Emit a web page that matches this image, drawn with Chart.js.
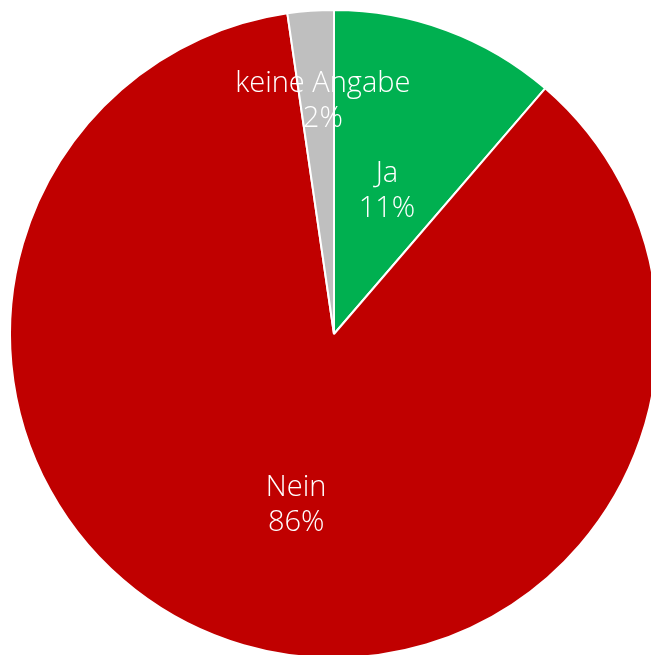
<!DOCTYPE html>
<html>
<head>
<meta charset="utf-8">
<script src="https://cdn.jsdelivr.net/npm/chart.js@4/dist/chart.umd.min.js"></script>
<style>
  html, body { margin: 0; padding: 0; background: #fff; overflow: hidden; }
  #wrap { position: absolute; left: 0; top: 0; width: 668px; height: 668px; }
</style>
</head>
<body>
<div id="wrap"><canvas id="pie"></canvas></div>
<script>
// Werte
var categories = ["Ja", "Nein", "keine Angabe"];
var values = [11.3, 86.4, 2.3];
var percentLabels = ["11%", "86%", "2%"];
var sliceColors = ["#00b050", "#c00000", "#bfbfbf"];

// Beschriftung in den Segmenten (wie bei Excel)
var sliceLabels = {
    id: "sliceLabels",
    afterDatasetsDraw: function (chart, args, opts) {
        var ctx = chart.ctx;
        var meta = chart.getDatasetMeta(0);
        ctx.save();
        ctx.fillStyle = "#ffffff";
        ctx.font = opts.font;
        ctx.textAlign = "center";
        ctx.textBaseline = "middle";
        meta.data.forEach(function (arc, i) {
            var p = arc.getProps(["x", "y", "startAngle", "endAngle", "outerRadius"], true);
            var place = opts.place[i];
            var mid = (p.startAngle + p.endAngle) / 2 + place.a * Math.PI / 180;
            var r = p.outerRadius * place.f;
            var x = p.x + Math.cos(mid) * r;
            var y = p.y + Math.sin(mid) * r;
            ctx.fillText(categories[i], x, y - opts.lineHeight / 2);
            ctx.fillText(percentLabels[i], x, y + opts.lineHeight / 2);
        });
        ctx.restore();
    }
};

var chart = new Chart(document.getElementById("pie"), {
    type: 'pie',
    data: {
        labels: categories,
        datasets: [{
            data: values,
            backgroundColor: sliceColors,
            borderColor: "#ffffff",
            borderWidth: 2
        }]
    },
    options: {
        responsive: true,
        maintainAspectRatio: false,
        animation: false,
        layout: { padding: 9 },
        plugins: {
            legend: { display: false },
            tooltip: { enabled: false },
            sliceLabels: {
                font: "300 29px 'Open Sans', 'Noto Sans', sans-serif",
                lineHeight: 35,
                place: [{ f: 0.47, a: 0 }, { f: 0.54, a: -3.7 }, { f: 0.72, a: 1.4 }]
            }
        }
    },
    plugins: [sliceLabels]
});
</script>
</body>
</html>
